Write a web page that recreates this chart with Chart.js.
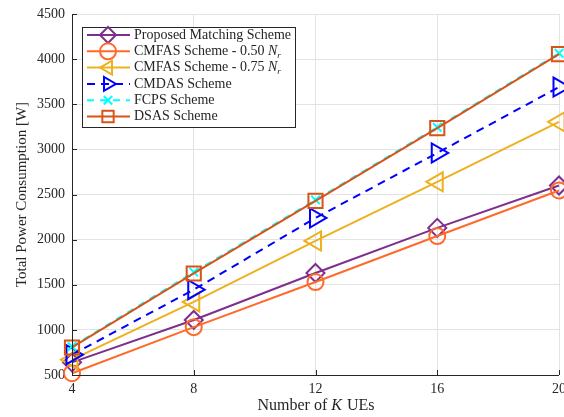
<!DOCTYPE html>
<html>
<head>
<meta charset="utf-8">
<script src="https://cdn.jsdelivr.net/npm/chart.js@4"></script>
<style>
  body { margin: 0; background: #fff; }
  #wrap { width: 564px; height: 417px; }
</style>
</head>
<body>
<div id="wrap"><canvas id="graphique"></canvas></div>
<script>
const usersK = [4, 8, 12, 16, 20];
const proposedMatching = [640, 1110, 1630, 2130, 2600];
const cmfas050 = [520, 1030, 1530, 2040, 2545];
const cmfas075 = [670, 1310, 1985, 2640, 3305];
const cmdas = [725, 1445, 2240, 2960, 3690];
const fcps = [815, 1640, 2440, 3245, 4065];
const dsas = [805, 1625, 2430, 3235, 4055];
const yTicks = [500, 1000, 1500, 2000, 2500, 3000, 3500, 4000, 4500];

const serif = "'Liberation Serif', 'DejaVu Serif', serif";
const axisColor = "#262626";

function toPoints(vals) {
    return usersK.map((k, i) => ({ x: k, y: vals[i] }));
}

const series = [
    { label: "Proposed Matching Scheme", data: proposedMatching, color: "#7E2F8E", style: "rectRot", rot: 0, radius: 9, dash: [] },
    { label: "CMFAS Scheme - 0.50 ", sub: true, data: cmfas050, color: "#FF6A2B", style: "circle", rot: 0, radius: 8, dash: [] },
    { label: "CMFAS Scheme - 0.75 ", sub: true, data: cmfas075, color: "#EDB120", style: "triangle", rot: -90, radius: 11, dash: [] },
    { label: "CMDAS Scheme", data: cmdas, color: "#0000FF", style: "triangle", rot: 90, radius: 11, dash: [8, 6] },
    { label: "FCPS Scheme", data: fcps, color: "#00FFFF", style: "crossRot", rot: 0, radius: 6, dash: [7, 6] },
    { label: "DSAS Scheme", data: dsas, color: "#D95319", style: "rect", rot: 0, radius: 10, dash: [] },
];

const datasets = series.map((s, i) => ({
    label: s.label,
    data: toPoints(s.data),
    borderColor: s.color,
    backgroundColor: "rgba(0,0,0,0)",
    borderWidth: 2,
    borderDash: s.dash,
    pointStyle: s.style,
    pointRotation: s.rot,
    pointRadius: s.radius,
    pointBorderWidth: 2,
    pointBorderColor: s.color,
    pointBackgroundColor: "rgba(0,0,0,0)",
    tension: 0,
    order: 10 - i,
    clip: false,
}));

// ticks pointing inward, axis titles and the legend box
const decorPlugin = {
    id: "decor",
    afterDraw(chart) {
        const ctx = chart.ctx;
        const area = chart.chartArea;
        const xs = chart.scales.x;
        const ys = chart.scales.y;
        ctx.save();
        ctx.strokeStyle = axisColor;
        ctx.lineWidth = 1;
        ctx.beginPath();
        ctx.moveTo(area.left + 0.5, area.top);
        ctx.lineTo(area.left + 0.5, area.bottom + 0.5);
        ctx.lineTo(area.right, area.bottom + 0.5);
        for (const v of yTicks) {
            const py = Math.round(ys.getPixelForValue(v)) + 0.5;
            ctx.moveTo(area.left, py);
            ctx.lineTo(area.left + 5, py);
        }
        for (const k of usersK) {
            const px = Math.round(xs.getPixelForValue(k)) + 0.5;
            ctx.moveTo(px, area.bottom);
            ctx.lineTo(px, area.bottom - 5);
        }
        ctx.stroke();

        // axis titles
        ctx.fillStyle = axisColor;
        ctx.textBaseline = "middle";
        ctx.font = "16px " + serif;
        const p1 = "Number of ", p2 = "K", p3 = " UEs";
        const w1 = ctx.measureText(p1).width;
        const w3 = ctx.measureText(p3).width;
        ctx.font = "italic 16px " + serif;
        const w2 = ctx.measureText(p2).width;
        let tx = (area.left + area.right) / 2 - (w1 + w2 + w3) / 2;
        const ty = 406;
        ctx.textAlign = "left";
        ctx.font = "16px " + serif;
        ctx.fillText(p1, tx, ty);
        ctx.font = "italic 16px " + serif;
        ctx.fillText(p2, tx + w1, ty);
        ctx.font = "16px " + serif;
        ctx.fillText(p3, tx + w1 + w2 + 1, ty);

        ctx.save();
        ctx.translate(22, (area.top + area.bottom) / 2);
        ctx.rotate(-Math.PI / 2);
        ctx.textAlign = "center";
        ctx.font = "15px " + serif;
        ctx.fillText("Total Power Consumption [W]", 0, 0);
        ctx.restore();

        // legend
        const lx = 82, ly = 27, lw = 213, lh = 100;
        ctx.fillStyle = "#fff";
        ctx.fillRect(lx, ly, lw, lh);
        ctx.strokeStyle = axisColor;
        ctx.lineWidth = 1;
        ctx.strokeRect(lx + 0.5, ly + 0.5, lw, lh);
        series.forEach((s, i) => {
            const yy = 35 + i * 16.3;
            ctx.strokeStyle = s.color;
            ctx.fillStyle = "rgba(0,0,0,0)";
            ctx.lineWidth = 2;
            ctx.setLineDash(s.dash);
            ctx.beginPath();
            ctx.moveTo(87, yy);
            ctx.lineTo(130, yy);
            ctx.stroke();
            ctx.setLineDash([]);
            Chart.helpers.drawPoint(ctx, {
                pointStyle: s.style,
                rotation: s.rot,
                radius: Math.min(s.radius, 8),
                borderWidth: 2,
            }, 108, yy);
            ctx.fillStyle = axisColor;
            ctx.textAlign = "left";
            ctx.textBaseline = "middle";
            ctx.font = "14px " + serif;
            ctx.fillText(s.label, 134, yy);
            if (s.sub) {
                const w = ctx.measureText(s.label).width;
                ctx.font = "italic 14px " + serif;
                ctx.fillText("N", 134 + w, yy);
                const wn = ctx.measureText("N").width;
                ctx.font = "italic 9px " + serif;
                ctx.fillText("r", 134 + w + wn, yy + 4);
            }
        });
        ctx.restore();
    }
};

const config = {
    type: "line",
    data: { datasets: datasets },
    options: {
        responsive: false,
        animation: false,
        layout: { autoPadding: false, padding: { left: 0, right: 5, top: 14, bottom: 0 } },
        plugins: { legend: { display: false }, tooltip: { enabled: false } },
        scales: {
            x: {
                type: "linear",
                min: 4,
                max: 20,
                afterBuildTicks: (scale) => { scale.ticks = usersK.map(v => ({ value: v })); },
                afterFit: (scale) => { scale.height = 42; scale.paddingLeft = 0; scale.paddingRight = 0; },
                grid: { color: "#e3e3e3", lineWidth: 1, drawTicks: false },
                border: { display: false },
                ticks: { color: axisColor, font: { family: serif, size: 14 }, padding: 6, maxRotation: 0,
                         callback: (v) => String(v) },
            },
            y: {
                min: 500,
                max: 4500,
                afterBuildTicks: (scale) => { scale.ticks = yTicks.map(v => ({ value: v })); },
                afterFit: (scale) => { scale.width = 72; scale.paddingTop = 0; scale.paddingBottom = 0; },
                grid: { color: "#e3e3e3", lineWidth: 1, drawTicks: false },
                border: { display: false },
                ticks: { color: axisColor, font: { family: serif, size: 14 }, padding: 7,
                         callback: (v) => String(v) },
            },
        },
    },
    plugins: [decorPlugin],
};

const canvas = document.querySelector("#graphique");
canvas.width = 564;
canvas.height = 417;
const graph = new Chart(canvas, config);
</script>
</body>
</html>
